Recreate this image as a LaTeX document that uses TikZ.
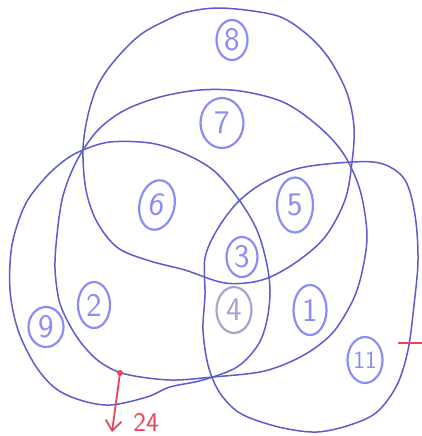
\documentclass[tikz,border=0pt]{standalone}
\usepackage{tikz}
\usetikzlibrary{arrows.meta,shapes.geometric}

\definecolor{inkblue}{RGB}{92,92,205}
\definecolor{numblue}{RGB}{140,140,245}
\definecolor{numgrey}{RGB}{165,165,210}
\definecolor{penred}{RGB}{230,70,90}

\begin{document}
\begin{tikzpicture}[x=1pt, y=-1pt, >=Stealth,
  setline/.style={draw=inkblue, line width=1.5pt},
  num/.style={ellipse, draw=numblue, line width=2.2pt, text=numblue, inner sep=0pt, font=\sffamily\fontsize{33}{33}\selectfont},
  redink/.style={draw=penred, line width=1.8pt}]
  \useasboundingbox (0,0) rectangle (422,436);

  % the four hand-drawn sets
  \draw[setline] plot[smooth cycle, tension=0.55] coordinates {(167,20) (140,35) (115,60) (98,85) (88,115) (83,150) (86,190) (97,222) (118,248) (150,261) (185,270) (225,283) (262,280) (295,263) (325,237) (345,200) (352,162) (354,127) (347,93) (330,60) (310,37) (283,18) (253,11) (217,8) (187,12)};
  \draw[setline] plot[smooth cycle, tension=0.55] coordinates {(160,97) (200,90) (240,91) (283,102) (317,125) (343,153) (360,190) (367,235) (362,272) (353,300) (335,330) (315,348) (290,362) (260,372) (213,377) (170,380) (125,374) (100,362) (82,344) (68,322) (59,300) (55,268) (57,235) (62,200) (71,173) (83,150) (100,128) (125,110)};
  \draw[setline] plot[smooth cycle, tension=0.55] coordinates {(83,150) (110,142) (150,143) (183,153) (213,170) (237,197) (256,228) (266,260) (270,290) (267,320) (258,345) (237,367) (203,380) (170,387) (147,397) (110,405) (80,400) (55,388) (35,365) (18,330) (10,290) (12,245) (25,205) (45,178) (65,160)};
  \draw[setline] plot[smooth cycle, tension=0.55] coordinates {(205,258) (217,230) (237,203) (263,183) (300,168) (352,162) (383,164) (405,180) (415,215) (418,260) (414,305) (408,350) (397,385) (377,412) (350,425) (317,432) (283,428) (250,418) (233,408) (218,390) (208,365) (203,330) (205,295)};

  % circled numbers
  \node[num, minimum width=31pt, minimum height=40pt] (eight) at (232,40) {8};
  \node[num, minimum width=43pt, minimum height=50pt] (seven) at (222,123) {7};
  \node[num, minimum width=35pt, minimum height=50pt, rotate=-12] (six) at (157,205) {6};
  \node[num, minimum width=36pt, minimum height=55pt] (five) at (295,205) {5};
  \node[num, minimum width=31pt, minimum height=40pt] (three) at (242,257) {3};
  \node[num, draw=numgrey, text=numgrey, minimum width=35pt, minimum height=46pt] (four) at (234,310) {4};
  \node[num, minimum width=33pt, minimum height=50pt] (one) at (310,310) {1};
  \node[num, minimum width=32pt, minimum height=46pt] (two) at (94,305) {2};
  \node[num, minimum width=35pt, minimum height=40pt] (nine) at (46,327) {9};
  \node[num, minimum width=35pt, minimum height=46pt, font=\sffamily\fontsize{25}{25}\selectfont] (eleven) at (365,360) {11};

  % red marks
  \coordinate (cut) at (120,373);
  \coordinate (tip) at (112,432);
  \coordinate (mkl) at (398,343);
  \coordinate (mkr) at (422,343);
  \node[text=penred, font=\sffamily\fontsize{27}{27}\selectfont] (cnt) at (146,422) {24};
  \fill[penred] (cut) circle (3);
  \draw[redink, -{Straight Barb[length=10pt, width=16pt]}] (cut) -- (tip);
  \draw[redink] (mkl) -- (mkr);
\end{tikzpicture}
\end{document}
